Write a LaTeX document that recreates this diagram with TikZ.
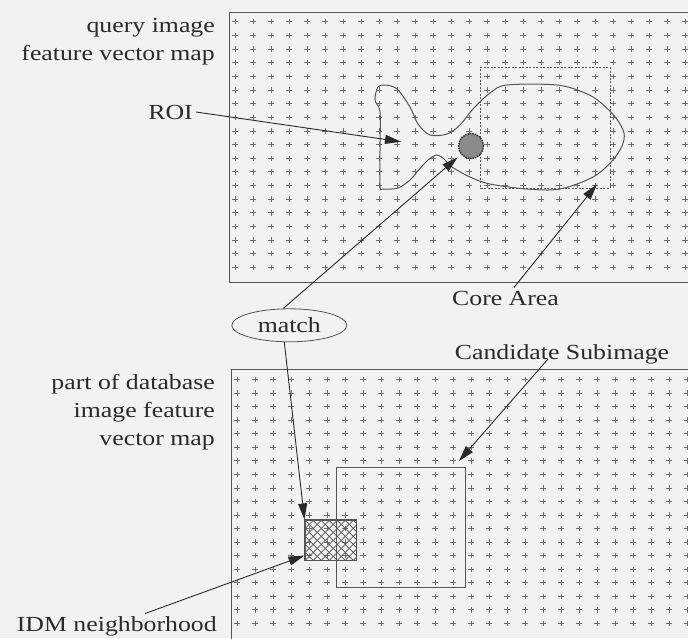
\documentclass[tikz,border=0pt]{standalone}
\usepackage{fontspec}
\setmainfont{Liberation Serif}[FakeStretch=1.2]
\usepackage{tikz}
\usetikzlibrary{positioning, arrows.meta, shapes.geometric}
\definecolor{Paper}{HTML}{F2F2F2}
\definecolor{Ink}{HTML}{2A2A2A}
\definecolor{Wire}{HTML}{555555}
\definecolor{Mark}{HTML}{6E6E6E}
\tikzset{
  lbl/.style={font=\fontsize{21.5}{28}\selectfont, text=Ink, inner sep=3pt},
  mapframe/.style={draw=Wire, line width=1pt},
  crossmark/.style={draw=Mark, line width=0.75pt},
  ptr/.style={draw=Ink, line width=0.9pt, -{Triangle[length=16pt,width=9pt]}},
  areabox/.style={draw=Wire, line width=1.1pt, inner sep=0pt},
}

\begin{document}
\begin{tikzpicture}[x=1pt, y=-1pt]
  \path[use as bounding box, fill=Paper] (0,0) rectangle (688,638);
  \begin{scope}
    \clip (0,0) rectangle (688,638);
    % the two feature vector maps
    \draw[mapframe] (229,12.7) rectangle (720,282);
    \draw[mapframe] (231.6,369.3) rectangle (720,700);
    \foreach \i in {0,...,25}
      \foreach \j in {0,...,18} {
        \draw[crossmark] (235+18*\i-2.8, 21.7+13.65*\j) -- ++(5.6,0)
                         (235+18*\i, 21.7+13.65*\j-2.7) -- ++(0,5.4);
        \draw[crossmark] (237+18*\i-2.8, 379.5+13.55*\j) -- ++(5.6,0)
                         (237+18*\i, 379.5+13.55*\j-2.7) -- ++(0,5.4);
      }
  \end{scope}

  % object contour in the query map
  \draw[Wire, line width=1pt] plot[smooth cycle, tension=0.55] coordinates {
    (378,87) (375,100) (380,112) (380,150) (380,186) (383,189) (398,188)
    (410,180) (417,172) (428,160) (437,155) (444,159) (452,167) (470,177)
    (490,184) (527,189) (560,189) (593,177) (612,161) (622,146) (624,133)
    (616,118) (600,102) (585,93) (557,85) (507,85) (490,93) (473,109)
    (460,125) (447,134) (430,135) (418,124) (410,107) (397,89) (385,85)};

  \node[areabox, dashed, dash pattern=on 2pt off 1.5pt, line width=0.8pt,
        minimum width=129.3pt, minimum height=121pt] (corebox) at (545.35,127.8) {};
  \node[circle, draw=Ink, densely dotted, line width=1.4pt, fill=Mark!80,
        minimum size=25pt, inner sep=0pt] (roicirc) at (471,146) {};

  % boxes in the database map
  \node[areabox, minimum width=129pt, minimum height=120.4pt] (candbox) at (401.2,527.5) {};
  \node[areabox, minimum width=51.7pt, minimum height=40.7pt,
        path picture={
          \foreach \k in {-56,-48,...,64} {
            \draw[Wire, line width=0.7pt] ([xshift=\k pt]path picture bounding box.south west) -- ++(60,-60);
            \draw[Wire, line width=0.7pt] ([xshift=\k pt]path picture bounding box.north west) -- ++(60,60);
          }}] (idmbox) at (330.85,540.35) {};

  % labels
  \node[lbl, align=right, anchor=base east] (qlabel) at (218,60) {query image\\feature vector map};
  \node[lbl, anchor=base east] (roi) at (196,119) {ROI};
  \node[lbl, anchor=base] (core) at (505.5,305) {Core Area};
  \node[lbl, ellipse, draw=Wire, line width=0.8pt, inner sep=0pt,
        minimum width=115pt, minimum height=33pt] (match) at (289.3,325.3) {match};
  \node[lbl, anchor=base] (cand) at (562,359) {Candidate Subimage};
  \node[lbl, align=right, anchor=base east] (dblabel) at (218,445) {part of database\\image feature\\vector map};
  \node[lbl, anchor=base east] (idm) at (220,631.7) {IDM neighborhood};

  % pointers
  \coordinate (roitip) at (401,141.7);
  \draw[ptr] (roi.east) -- (roitip);
  \draw[ptr] (core) -- ([xshift=-13.5pt, yshift=4.3pt]corebox.south east);
  \draw[ptr] ([xshift=-14pt]cand.base) -- ([xshift=-7.4pt, yshift=5.6pt]candbox.north east);
  \draw[ptr] ([xshift=-6pt]match.north) -- ([xshift=-4pt, yshift=-2pt]roicirc.south west);
  \draw[ptr] ([xshift=-5pt]match.south) -- (idmbox.north west);
  \draw[ptr] ([xshift=28pt]idm.north) -- ([yshift=5.7pt]idmbox.south west);
\end{tikzpicture}
\end{document}
